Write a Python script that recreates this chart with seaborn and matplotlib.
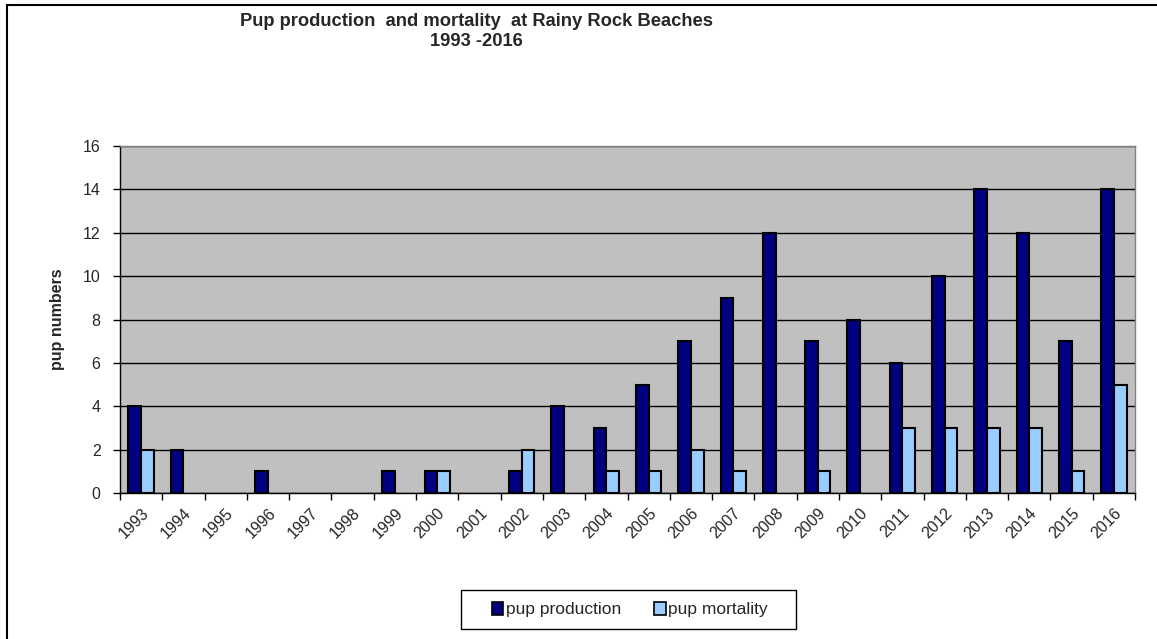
import pandas as pd
import seaborn as sns
import matplotlib.pyplot as plt
from matplotlib.patches import Rectangle
from matplotlib.ticker import FixedLocator

years = [str(y) for y in range(1993, 2017)]
pup_production = [4, 2, 0, 1, 0, 0, 1, 1, 0, 1, 4, 3, 5, 7, 9, 12, 7, 8, 6, 10, 14, 12, 7, 14]
pup_mortality = [2, 0, 0, 0, 0, 0, 0, 1, 0, 2, 0, 1, 1, 2, 1, 0, 1, 0, 3, 3, 3, 3, 1, 5]
series_names = ['pup production', 'pup mortality']
colors = ['#000080', '#99CCFF']

df = pd.DataFrame({'year': years, series_names[0]: pup_production, series_names[1]: pup_mortality})
df_long = df.melt(id_vars='year', var_name='series', value_name='value')

sns.set_style('white')
plt.rcParams['font.family'] = ['Liberation Sans', 'DejaVu Sans']

W, H = 1157, 639
fig = plt.figure(figsize=(W / 100, H / 100), dpi=100)
ax = fig.add_axes([120 / W, 1 - 493 / H, (1135 - 120) / W, (493 - 146) / H])

sns.barplot(data=df_long, x='year', y='value', hue='series', hue_order=series_names,
            palette=colors, width=0.6, edgecolor='black', linewidth=1.5,
            saturation=1, ax=ax, legend=True)

# hide zero-height bars like excel does
for p in ax.patches:
    if p.get_height() == 0:
        p.set_linewidth(0)

ax.set_facecolor('#C0C0C0')
ax.set_xlim(-0.5, len(years) - 0.5)
ax.set_ylim(0, 16)
ax.set_yticks(range(0, 17, 2))
ax.yaxis.grid(True, color='black', linewidth=1)
ax.set_axisbelow(True)

# excel puts the category ticks between groups
ax.xaxis.set_minor_locator(FixedLocator([i - 0.5 for i in range(len(years) + 1)]))
ax.tick_params(axis='x', which='major', length=0, labelsize=11.5, pad=9)
ax.tick_params(axis='x', which='minor', length=5, width=1, color='black', bottom=True)
ax.tick_params(axis='y', length=5, width=1, color='black', left=True, labelsize=11.5, pad=9)
plt.setp(ax.get_xticklabels(), rotation=45, ha='right', rotation_mode='anchor')

for side in ['left', 'bottom']:
    ax.spines[side].set_color('black')
    ax.spines[side].set_linewidth(1)
for side in ['top', 'right']:
    ax.spines[side].set_color('#808080')
    ax.spines[side].set_linewidth(1)

ax.set_xlabel('')
ax.set_ylabel('pup numbers', fontsize=11.5, fontweight='bold', labelpad=13)

# legend without its own frame, box drawn separately behind it
leg = ax.legend(loc='center', bbox_to_anchor=(630 / W, 1 - 609.5 / H),
                bbox_transform=fig.transFigure, ncol=2, frameon=False,
                fontsize=12.5, handlelength=0.65, handleheight=0.75, handletextpad=0.15,
                columnspacing=1.9, borderpad=0, borderaxespad=0)
for h in leg.legend_handles:
    h.set_edgecolor('black')
    h.set_linewidth(1.2)
fig.patches.append(Rectangle((461 / W, 1 - 629 / H), (796 - 461) / W, (629 - 590) / H,
                             transform=fig.transFigure, facecolor='white', edgecolor='black',
                             linewidth=1, zorder=-1))

fig.text(476 / W, 1 - 22 / H, 'Pup production  and mortality  at Rainy Rock Beaches',
         ha='center', va='center', fontsize=13.2, fontweight='bold')
fig.text(476 / W, 1 - 42 / H, '1993 -2016',
         ha='center', va='center', fontsize=13.2, fontweight='bold')

# outer chart border
fig.patches.append(Rectangle((7 / W, -0.1), 1.2, 1.1 - 5 / H, transform=fig.transFigure,
                             fill=False, edgecolor='black', linewidth=1.5, clip_on=False))

fig.savefig('out.png', dpi=100)
